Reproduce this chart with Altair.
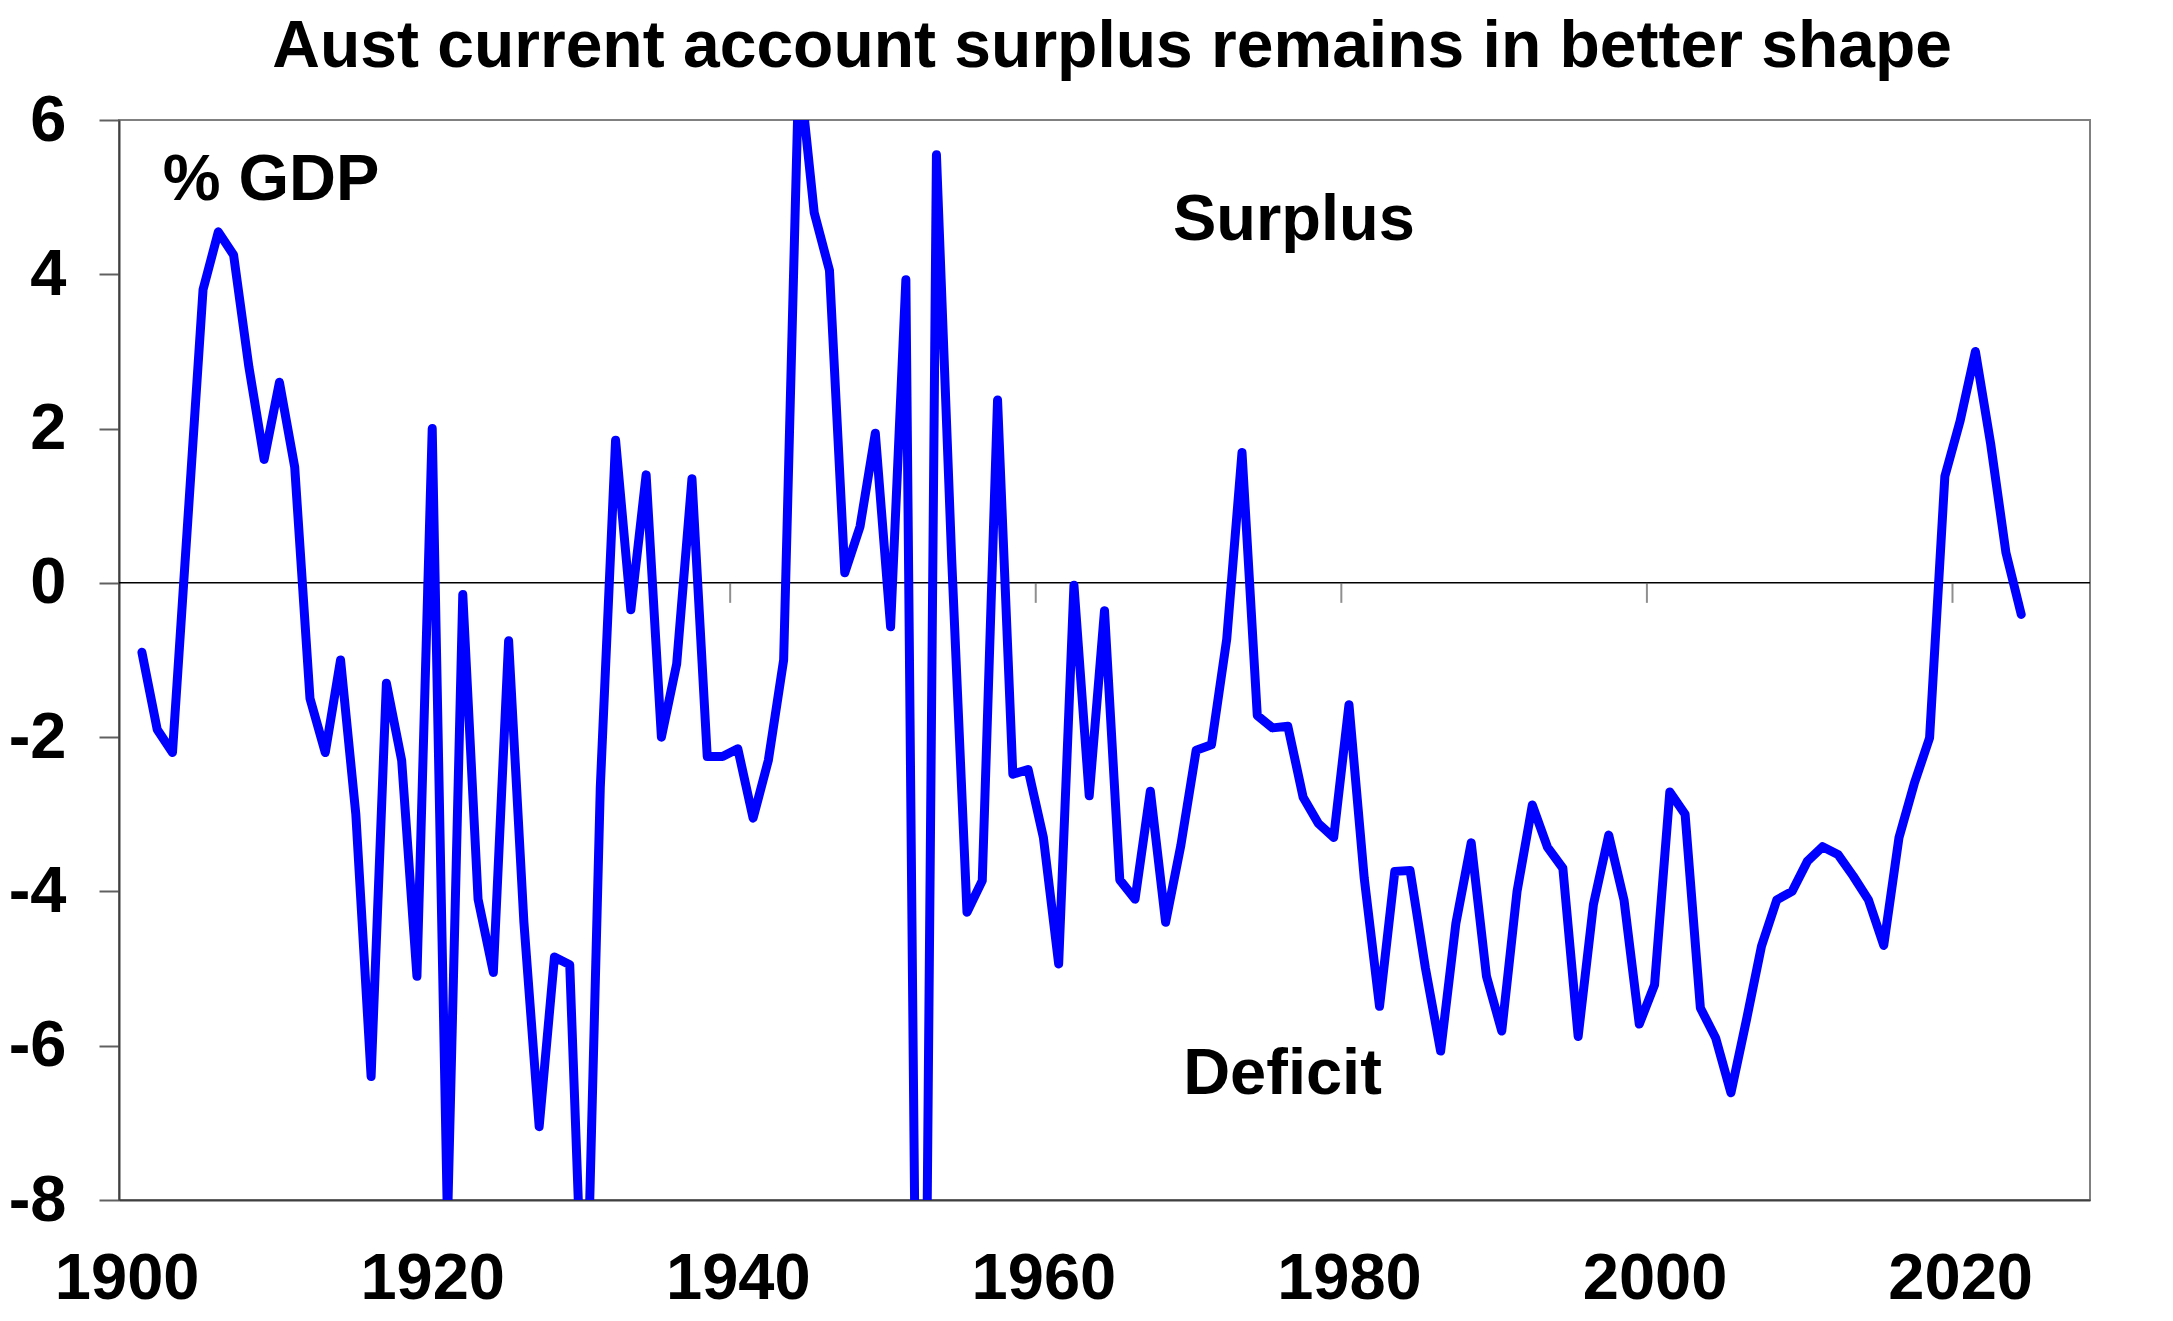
import altair as alt
import pandas as pd

# Australian current account balance, % of GDP (annual)
years = list(range(1901, 2025))
balance = [
    -0.9, -1.9, -2.2, 0.8, 3.8, 4.55, 4.25, 2.8, 1.6,            # 1901-09
    2.6, 1.5, -1.5, -2.2, -1.0, -3.0, -6.4, -1.3, -2.3, -5.1,    # 1910-19
    2.0, -8.3, -0.15, -4.1, -5.05, -0.75, -4.4, -7.05, -4.85, -4.95,  # 1920-29
    -10.4, -2.65, 1.85, -0.35, 1.4, -2.0, -1.05, 1.35, -2.25, -2.25,  # 1930-39
    -2.15, -3.05, -2.3, -1.0, 6.7, 4.8, 4.05, 0.13, 0.73, 1.94,   # 1940-49
    -0.57, 3.93, -17.0, 5.55, 0.3, -4.27, -3.86, 2.37, -2.48, -2.42,  # 1950-59
    -3.3, -4.94, -0.03, -2.76, -0.36, -3.85, -4.1, -2.7, -4.4, -3.4,  # 1960-69
    -2.17, -2.1, -0.73, 1.69, -1.72, -1.88, -1.86, -2.78, -3.12, -3.3,  # 1970-79
    -1.58, -3.83, -5.49, -3.74, -3.73, -4.99, -6.07, -4.41, -3.37, -5.1,  # 1980-89
    -5.81, -4.0, -2.88, -3.43, -3.7, -5.88, -4.17, -3.27, -4.11, -5.72,  # 1990-99
    -5.21, -2.71, -3.0, -5.51, -5.9, -6.61, -5.68, -4.71, -4.11, -4.0,  # 2000-09
    -3.61, -3.42, -3.52, -3.8, -4.11, -4.7, -3.3, -2.6, -2.01, 1.38,  # 2010-19
    2.1, 3.0, 1.8, 0.39, -0.41,                                    # 2020-24
]

label_years = [1900, 1920, 1940, 1960, 1980, 2000, 2020]
y_ticks = [-8, -6, -4, -2, 0, 2, 4, 6]
zero_tick_years = [1919.5, 1939.5, 1959.5, 1979.5, 1999.5, 2019.5]

# in-chart texts (title sits just above the plot frame)
notes = ["Aust current account surplus remains in better shape", "% GDP", "Surplus", "Deficit"]
note_x = [1964.5, 1909.45, 1976.4, 1975.65]
note_y = [6.69, 4.96, 4.44, -6.62]
note_size = [66, 65, 65, 65]

FONT = "Liberation Sans"

df = pd.DataFrame({"year": years, "balance": balance})
zero_df = pd.DataFrame({"balance": [0]})
ticks_df = pd.DataFrame({"year": zero_tick_years, "balance": [0] * len(zero_tick_years)})
notes_df = pd.DataFrame({"text": notes, "year": note_x, "balance": note_y, "size": note_size})

x_scale = alt.Scale(domain=[1899.5, 2028.5], nice=False, zero=False)
y_scale = alt.Scale(domain=[-8, 6], nice=False, zero=False)

x_axis = alt.Axis(
    values=label_years, format="d", title=None, grid=False,
    ticks=False, tickSize=0, labelPadding=47,
    labelFont=FONT, labelFontSize=65, labelFontWeight="bold", labelColor="black",
    labelFlush=False, labelOverlap=False,
    domainColor="#404040", domainWidth=2)
# plain hyphen for negatives, as in the original
y_axis = alt.Axis(
    values=y_ticks, title=None, grid=False, labelExpr="toString(datum.value)",
    tickSize=20, tickColor="#606060", tickWidth=2, labelPadding=33,
    labelFont=FONT, labelFontSize=65, labelFontWeight="bold", labelColor="black",
    labelFlush=False, labelOverlap=False,
    domainColor="#404040", domainWidth=2)

x_enc = alt.X("year:Q", scale=x_scale, axis=x_axis)
y_enc = alt.Y("balance:Q", scale=y_scale, axis=y_axis)

line = alt.Chart(df).mark_line(
    color="#0000ff", strokeWidth=9, strokeJoin="round", strokeCap="round", clip=True
).encode(x=x_enc, y=y_enc)

zero_line = alt.Chart(zero_df).mark_rule(color="black", strokeWidth=1.5).encode(y=y_enc)

zero_ticks = alt.Chart(ticks_df).mark_tick(
    orient="vertical", size=20, thickness=2, color="#606060", yOffset=10
).encode(x=x_enc, y=y_enc)

labels = alt.Chart(notes_df).mark_text(
    font=FONT, fontWeight="bold", color="black",
    align="center", baseline="alphabetic"
).encode(
    x=x_enc, y=y_enc, text="text:N",
    size=alt.Size("size:Q", scale=None, legend=None),
)

chart = alt.layer(zero_line, zero_ticks, line, labels).properties(
    width=1971,
    height=1080,
    autosize="none",
    background="white",
    padding={"left": 111, "top": 112, "right": 75, "bottom": 113},
).configure_view(stroke="#808080", strokeWidth=2)

chart.save("out.html", embed_options={"renderer": "svg", "actions": False})
